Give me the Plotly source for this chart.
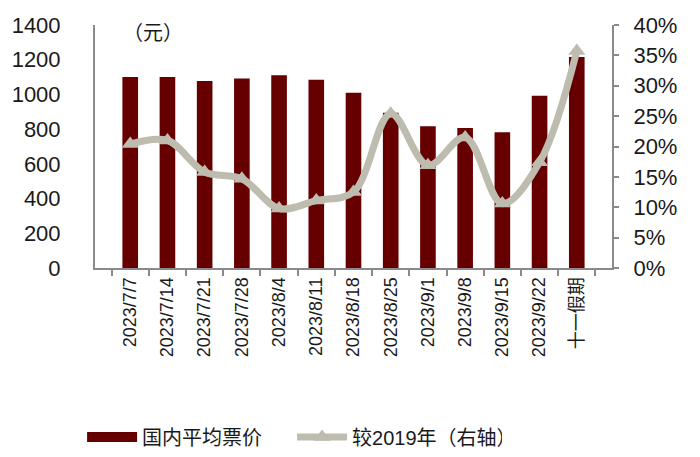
import plotly.graph_objects as go

categories = ["2023/7/7", "2023/7/14", "2023/7/21", "2023/7/28", "2023/8/4", "2023/8/11",
              "2023/8/18", "2023/8/25", "2023/9/1", "2023/9/8", "2023/9/15", "2023/9/22", "十一假期"]
avg_price = [1101, 1101, 1077, 1092, 1111, 1084, 1010, 895, 816, 807, 782, 993, 1215]
vs_2019 = [0.204, 0.210, 0.158, 0.147, 0.098, 0.111, 0.125, 0.254, 0.169, 0.215, 0.106, 0.174, 0.357]

FONT = "Arial, 'Liberation Sans', 'Noto Sans CJK SC', sans-serif"
AXIS_COLOR = "#8a8a8a"
BAR_COLOR = "#660000"
LINE_COLOR = "#bdbcae"

fig = go.Figure()
fig.add_trace(go.Bar(
    x=categories, y=avg_price, name="国内平均票价",
    marker=dict(color=BAR_COLOR, line=dict(width=0)),
    width=0.42, yaxis="y", showlegend=False,
))
# legend entry for the bars (wide swatch)
fig.add_trace(go.Scatter(
    x=[None], y=[None], name="国内平均票价", mode="lines",
    line=dict(color=BAR_COLOR, width=13), yaxis="y", showlegend=True,
))
fig.add_trace(go.Scatter(
    x=categories, y=vs_2019, name="较2019年（右轴）", yaxis="y2",
    mode="lines+markers",
    line=dict(color=LINE_COLOR, width=7, shape="spline", smoothing=1.0),
    marker=dict(symbol="triangle-up", size=15, color=LINE_COLOR),
))

fig.update_layout(
    width=700, height=457,
    margin=dict(l=95, r=88, t=25, b=189, autoexpand=False),
    paper_bgcolor="white", plot_bgcolor="white",
    font=dict(family=FONT, color="#1a1a1a"),
    showlegend=True,
    legend=dict(orientation="h", x=-0.025, xanchor="left", y=-0.695, yanchor="middle",
                font=dict(size=20, family=FONT), itemwidth=50, entrywidth=145,
                bgcolor="rgba(0,0,0,0)"),
    xaxis=dict(
        type="category", showline=True, linecolor=AXIS_COLOR, linewidth=2,
        ticks="outside", tickson="boundaries", ticklen=6, tickcolor=AXIS_COLOR, tickwidth=2,
        tickangle=-90, tickfont=dict(size=18, family=FONT, color="#1a1a1a"),
        showgrid=False, zeroline=False, automargin=False,
    ),
    yaxis=dict(
        range=[0, 1400], dtick=200, showline=True, linecolor=AXIS_COLOR, linewidth=2,
        ticks="", tickfont=dict(size=22, family=FONT, color="#1a1a1a"),
        showgrid=False, zeroline=False, ticklabelstandoff=28, automargin=False,
    ),
    yaxis2=dict(
        range=[0, 0.4], dtick=0.05, tickformat=".0%", overlaying="y", side="right",
        showline=True, linecolor=AXIS_COLOR, linewidth=2,
        ticks="outside", ticklen=5, tickcolor=AXIS_COLOR, tickwidth=2,
        tickfont=dict(size=22, family=FONT, color="#1a1a1a"),
        showgrid=False, zeroline=False, ticklabelstandoff=10, automargin=False,
    ),
    annotations=[dict(text="（元）", xref="paper", yref="paper", x=0.05, y=1.02,
                      xanchor="left", yanchor="top", showarrow=False,
                      font=dict(size=20, family=FONT, color="#1a1a1a"))],
)

fig.write_html("out.html")
